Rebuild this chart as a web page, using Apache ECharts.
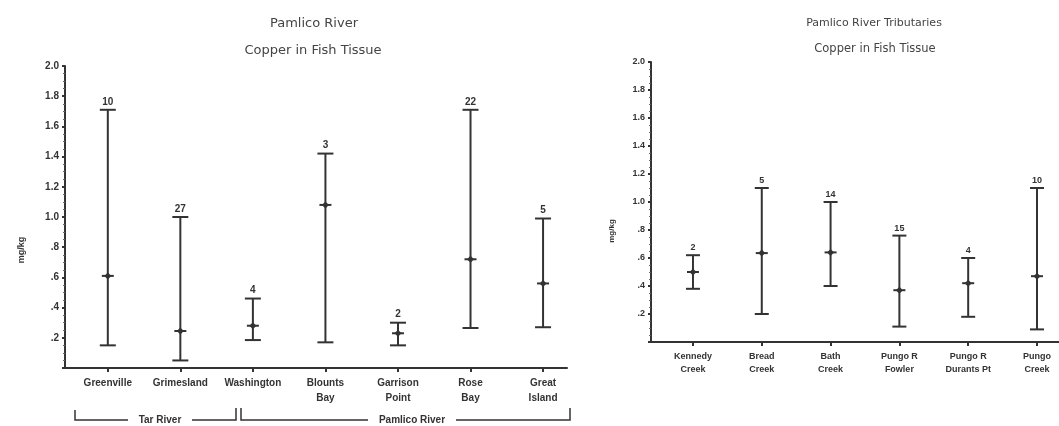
<!DOCTYPE html>
<html><head><meta charset="utf-8">
<script src="https://cdn.jsdelivr.net/npm/echarts@6/dist/echarts.min.js"></script>
<style>html,body{margin:0;padding:0;background:#fff}#c{width:1059px;height:426px}</style>
</head><body><div id="c"></div>
<script>
// ---- data ----
const leftCategories = ['Greenville', 'Grimesland', 'Washington', 'Blounts\nBay', 'Garrison\nPoint', 'Rose\nBay', 'Great\nIsland'];
const leftLow  = [0.15, 0.05, 0.185, 0.17, 0.15, 0.265, 0.27];
const leftMean = [0.61, 0.245, 0.28, 1.08, 0.23, 0.72, 0.56];
const leftHigh = [1.71, 1.00, 0.46, 1.42, 0.30, 1.71, 0.99];
const leftN    = [10, 27, 4, 3, 2, 22, 5];

const rightCategories = ['Kennedy\nCreek', 'Bread\nCreek', 'Bath\nCreek', 'Pungo R\nFowler', 'Pungo R\nDurants Pt', 'Pungo\nCreek'];
const rightLow  = [0.38, 0.20, 0.40, 0.11, 0.18, 0.09];
const rightMean = [0.50, 0.635, 0.64, 0.37, 0.42, 0.47];
const rightHigh = [0.62, 1.10, 1.00, 0.76, 0.60, 1.10];
const rightN    = [2, 5, 14, 15, 4, 10];

const yTickLabels = ['', '.2', '.4', '.6', '.8', '1.0', '1.2', '1.4', '1.6', '1.8', '2.0'];
const groupLabels = ['Tar River', 'Pamlico River'];
const titles = ['Pamlico River', 'Copper in Fish Tissue', 'Pamlico River Tributaries'];
const yName = 'mg/kg';

// ---- chart ----
const INK = '#333';
const NARROW = 'Liberation Sans, Arial, sans-serif';
function makeRender(capW, fs) {
  return function (params, api) {
    const i = api.value(0);
    const lo = api.coord([i, api.value(1)]);
    const mn = api.coord([i, api.value(2)]);
    const hi = api.coord([i, api.value(3)]);
    const n = api.value(4);
    const x = lo[0];
    const st = { stroke: INK, lineWidth: 2 };
    const h = capW / 2;
    return {
      type: 'group',
      children: [
        { type: 'line', shape: { x1: x, y1: lo[1], x2: x, y2: hi[1] }, style: st },
        { type: 'line', shape: { x1: x - h, y1: lo[1], x2: x + h, y2: lo[1] }, style: st },
        { type: 'line', shape: { x1: x - h, y1: hi[1], x2: x + h, y2: hi[1] }, style: st },
        { type: 'line', shape: { x1: x - 6, y1: mn[1], x2: x + 6, y2: mn[1] }, style: st },
        { type: 'polygon', shape: { points: [[x, mn[1] - 3.5], [x + 3.5, mn[1]], [x, mn[1] + 3.5], [x - 3.5, mn[1]]] }, style: { fill: INK } },
        { type: 'text', style: { text: String(n), x: x, y: hi[1] - 3, align: 'center', verticalAlign: 'bottom', fontSize: fs, fontWeight: 'bold', fill: INK, fontFamily: NARROW } }
      ]
    };
  };
}
function rows(lo, mn, hi, n) { return lo.map((v, i) => [i, v, mn[i], hi[i], n[i]]); }

const yAxisBase = (fs) => ({
  type: 'value', min: 0, max: 2.0, interval: 0.2,
  axisLine: { show: true, onZero: false, lineStyle: { color: INK, width: 2 } },
  axisTick: { show: true, inside: false, length: 3, lineStyle: { color: INK, width: 2 } },
  minorTick: { show: true, splitNumber: 4, length: 2, lineStyle: { color: '#666', width: 1 } },
  splitLine: { show: false },
  axisLabel: { fontSize: fs, fontWeight: 'bold', color: INK, margin: 6, fontFamily: NARROW,
    formatter: v => yTickLabels[Math.round(v / 0.2)] }
});
const xAxisBase = (cats, min, max, fs, lh) => ({
  type: 'value', min: min, max: max,
  axisLine: { show: true, onZero: false, lineStyle: { color: INK, width: 2 } },
  axisTick: { show: true, inside: false, length: 4, customValues: cats.map((c, i) => i), lineStyle: { color: INK, width: 2 } },
  splitLine: { show: false },
  axisLabel: { customValues: cats.map((c, i) => i), formatter: v => cats[Math.round(v)], fontSize: fs, fontWeight: 'bold',
    color: INK, margin: 8, lineHeight: lh, fontFamily: NARROW }
});

const tstyle = (fs, w) => ({ fill: '#444', fontSize: fs, fontFamily: 'DejaVu Sans', fontWeight: w, align: 'center', verticalAlign: 'middle' });

const option = {
  backgroundColor: '#fff',
  animation: false,
  grid: [
    { left: 65, right: 1059 - 567, top: 66, bottom: 426 - 368 },
    { left: 651, right: 0, top: 62, bottom: 426 - 342 }
  ],
  xAxis: [
    Object.assign(xAxisBase(leftCategories, -0.59, 6.33, 10, 15), { gridIndex: 0 }),
    Object.assign(xAxisBase(rightCategories, -0.61, 5.32, 9, 13), { gridIndex: 1 })
  ],
  yAxis: [
    Object.assign(yAxisBase(10), { gridIndex: 0 }),
    Object.assign(yAxisBase(9), { gridIndex: 1 })
  ],
  series: [
    { type: 'custom', xAxisIndex: 0, yAxisIndex: 0, clip: false, renderItem: makeRender(16, 10), data: rows(leftLow, leftMean, leftHigh, leftN) },
    { type: 'custom', xAxisIndex: 1, yAxisIndex: 1, clip: false, renderItem: makeRender(14, 9), data: rows(rightLow, rightMean, rightHigh, rightN) }
  ],
  graphic: [
    { type: 'text', x: 314, y: 24, style: Object.assign({ text: titles[0] }, tstyle(13, 'normal')) },
    { type: 'text', x: 313, y: 51, style: Object.assign({ text: titles[1] }, tstyle(13, 'normal')) },
    { type: 'text', x: 874, y: 23, style: Object.assign({ text: titles[2] }, tstyle(11, 'normal')) },
    { type: 'text', x: 875, y: 49, style: Object.assign({ text: titles[1] }, tstyle(11.5, 'normal')) },
    { type: 'text', x: 22, y: 250, rotation: Math.PI / 2, style: Object.assign({ text: yName }, tstyle(9, 'bold'), { fill: INK, fontFamily: NARROW }) },
    { type: 'text', x: 612, y: 231, rotation: Math.PI / 2, style: Object.assign({ text: yName }, tstyle(8, 'bold'), { fill: INK, fontFamily: NARROW }) },
    // group brackets
    { type: 'polyline', shape: { points: [[75, 410], [75, 420], [128, 420]] }, style: { stroke: INK, lineWidth: 1.5, fill: null } },
    { type: 'polyline', shape: { points: [[192, 420], [236, 420], [236, 408]] }, style: { stroke: INK, lineWidth: 1.5, fill: null } },
    { type: 'text', x: 160, y: 420, style: Object.assign({ text: groupLabels[0] }, tstyle(10, 'bold'), { fill: INK, fontFamily: NARROW }) },
    { type: 'polyline', shape: { points: [[241, 408], [241, 420], [368, 420]] }, style: { stroke: INK, lineWidth: 1.5, fill: null } },
    { type: 'polyline', shape: { points: [[456, 420], [570, 420], [570, 408]] }, style: { stroke: INK, lineWidth: 1.5, fill: null } },
    { type: 'text', x: 412, y: 420, style: Object.assign({ text: groupLabels[1] }, tstyle(10, 'bold'), { fill: INK, fontFamily: NARROW }) }
  ]
};
const chart = echarts.init(document.getElementById('c'), null, { renderer: 'canvas' });
chart.setOption(option);
</script>
</body></html>
